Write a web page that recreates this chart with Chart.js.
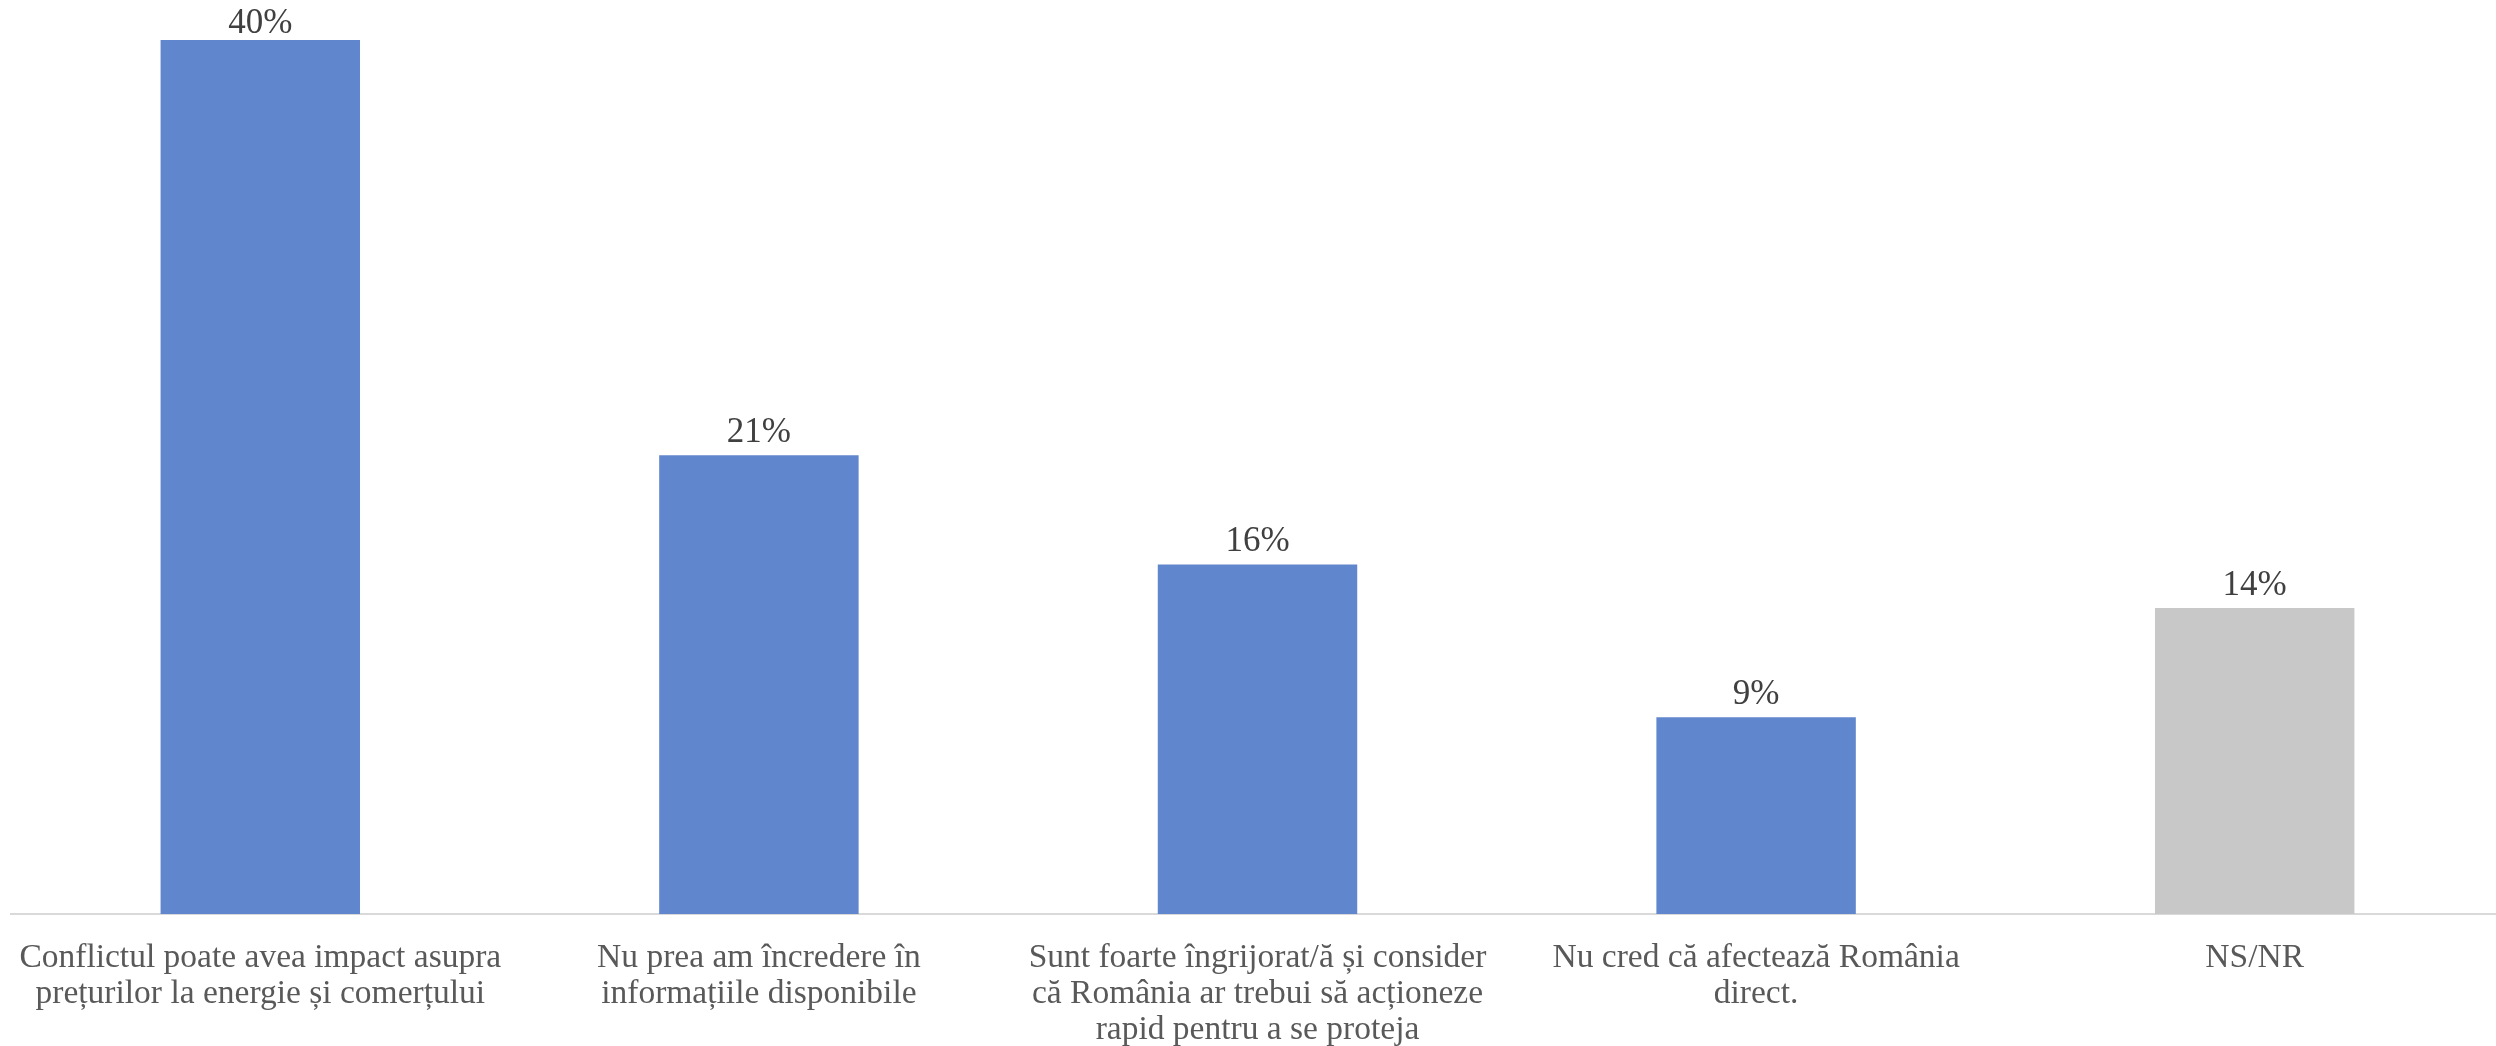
<!DOCTYPE html>
<html>
<head>
<meta charset="utf-8">
<script src="https://cdn.jsdelivr.net/npm/chart.js@4"></script>
<style>
  html, body { margin: 0; padding: 0; background: #fff; overflow: hidden; }
</style>
</head>
<body>
<canvas id="chart" width="2504" height="1080"></canvas>
<script>
'use strict'
// categorii (etichete pe axa X, impartite pe randuri)
const categories = [
  ["Conflictul poate avea impact asupra", "prețurilor la energie și comerțului"],
  ["Nu prea am încredere în", "informațiile disponibile"],
  ["Sunt foarte îngrijorat/ă și consider", "că România ar trebui să acționeze", "rapid pentru a se proteja"],
  ["Nu cred că afectează România", "direct."],
  ["NS/NR"]
];
const values = [40, 21, 16, 9, 14];   // procente
const barColors = ["#6086CD", "#6086CD", "#6086CD", "#6086CD", "#C8C8C8"];

const serif = "'Liberation Serif', 'DejaVu Serif', serif";

// eticheta de valoare deasupra barei
const valueLabels = {
  id: 'valueLabels',
  afterDatasetsDraw(chart) {
    const ctx = chart.ctx;
    const meta = chart.getDatasetMeta(0);
    ctx.save();
    ctx.font = "35px " + serif;
    ctx.fillStyle = "#404040";
    ctx.textAlign = "center";
    ctx.textBaseline = "alphabetic";
    meta.data.forEach((bar, i) => {
      // eticheta nu iese din imagine sus
      ctx.fillText(values[i] + "%", bar.x, Math.max(bar.y - 13, 33));
    });
    ctx.restore();
  }
};

new Chart(document.getElementById("chart").getContext("2d"), {
  type: "bar",
  data: {
    labels: categories,
    datasets: [{
      data: values,
      backgroundColor: barColors,
      borderWidth: 0,
      barPercentage: 0.4,
      categoryPercentage: 1.0
    }]
  },
  options: {
    responsive: false,
    animation: false,
    layout: { padding: { top: 40, left: 11, right: 0, bottom: 6 } },
    plugins: { legend: { display: false }, tooltip: { enabled: false } },
    scales: {
      x: {
        grid: { display: false, drawTicks: false },
        border: { display: true, color: "#D9D9D9", width: 2 },
        ticks: {
          color: "#595959",
          font: { family: serif, size: 33.5, lineHeight: 1.075 },
          padding: 26,
          maxRotation: 0,
          autoSkip: false
        },
        // fara spatiu suplimentar pentru etichete la margini
        afterFit(scale) {
          scale.paddingLeft = 0;
          scale.paddingRight = 0;
        }
      },
      y: { display: false, min: 0, max: 40 }
    }
  },
  plugins: [valueLabels]
});
</script>
</body>
</html>
